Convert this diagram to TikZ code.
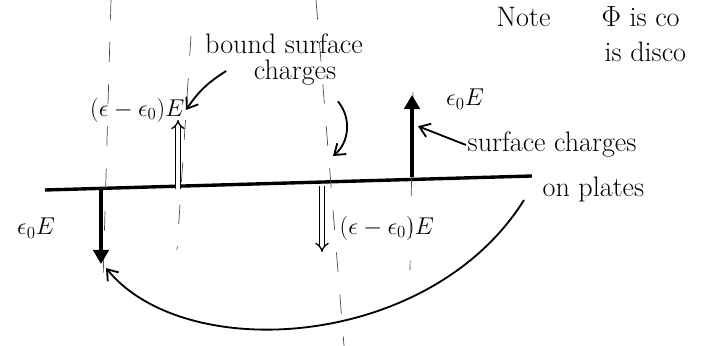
\documentclass[tikz,border=0pt]{standalone}
\usepackage{amsmath,amssymb}
\usepackage{tikz}
\usetikzlibrary{arrows.meta, positioning, calc}

\begin{document}
\begin{tikzpicture}[
        x=0.025cm, y=-0.025cm,
        hand/.style={font=\fontsize{20}{24}\selectfont, inner sep=1pt},
        lbl/.style={font=\fontsize{17}{20}\selectfont, inner sep=1pt},
        guide/.style={line width=0.5pt, black!70, dash pattern=on 14pt off 16pt},
        field/.style={line width=2.6pt, -{Triangle[length=10pt, width=11pt]}},
        bound/.style={double, double distance=2.4pt, line width=0.9pt, -{Implies}},
        note/.style={line width=1.3pt, -{Straight Barb[length=7pt, width=10pt]}},
    ]
        \useasboundingbox (0,0) rectangle (723,346);
        \clip (0,0) rectangle (723,346);

        % plate / interface
        \coordinate (plateL) at (45,190);
        \coordinate (plateR) at (532,176);
        \draw[line width=2.4pt] (plateL) -- (plateR);

        % faint guide lines
        \draw[guide] (111,0) -- (103,282);
        \draw[guide] (191,36) -- (177,250);
        \draw[guide] (316,0) -- (344,346);
        \draw[guide] (413,92) -- (410,270);

        % field arrows
        \coordinate (dnL) at (101,190);
        \coordinate (dnLtip) at (101,264);
        \draw[field] (dnL) -- (dnLtip);
        \coordinate (upR) at (412,177);
        \coordinate (upRtip) at (412,95);
        \draw[field] (upR) -- (upRtip);

        % polarisation arrows
        \coordinate (upB) at (178,189);
        \coordinate (upBtip) at (178,120);
        \draw[bound] (upB) -- (upBtip);
        \coordinate (dnB) at (322,186);
        \coordinate (dnBtip) at (322,252);
        \draw[bound] (dnB) -- (dnBtip);

        % labels
        \node[lbl] (epsL) at (36,228) {$\epsilon_0E$};
        \node[lbl] (epsR) at (465,99) {$\epsilon_0E$};
        \node[lbl, anchor=east] (epsUp) at (186,110) {$(\epsilon-\epsilon_0)E$};
        \node[lbl, anchor=west] (epsDn) at (338,228) {$(\epsilon-\epsilon_0)E$};

        \node[hand] (bound) at (284,44) {bound surface};
        \node[hand] (charges) at (295,73) {charges};
        \node[hand, anchor=west] (surf) at (466,145) {surface charges};
        \node[hand, anchor=west] (plates) at (541,189) {on plates};

        \node[hand, anchor=west] (note) at (495,17) {Note};
        \node[hand, anchor=west] (phi) at (600,17) {$\Phi$ is co};
        \node[hand, anchor=west] (disc) at (603,52) {is disco};

        % annotation arrows
        \draw[note] (charges.west) ++(-26,-2) to[bend right=12] (epsUp.east);
        \coordinate (bscTip) at (333,156);
        \draw[note] (charges.south east) ++(0,14) to[bend left=45] (bscTip);
        \draw[note] (surf.west) -- ($(upR)!0.62!(upRtip)+(6,0)$);

        % return path
        \coordinate (crvS) at (524,200);
        \coordinate (crvE) at (106,268);
        \draw[note] (crvS) .. controls (430,350) and (185,365) .. (crvE);
    \end{tikzpicture}
\end{document}
